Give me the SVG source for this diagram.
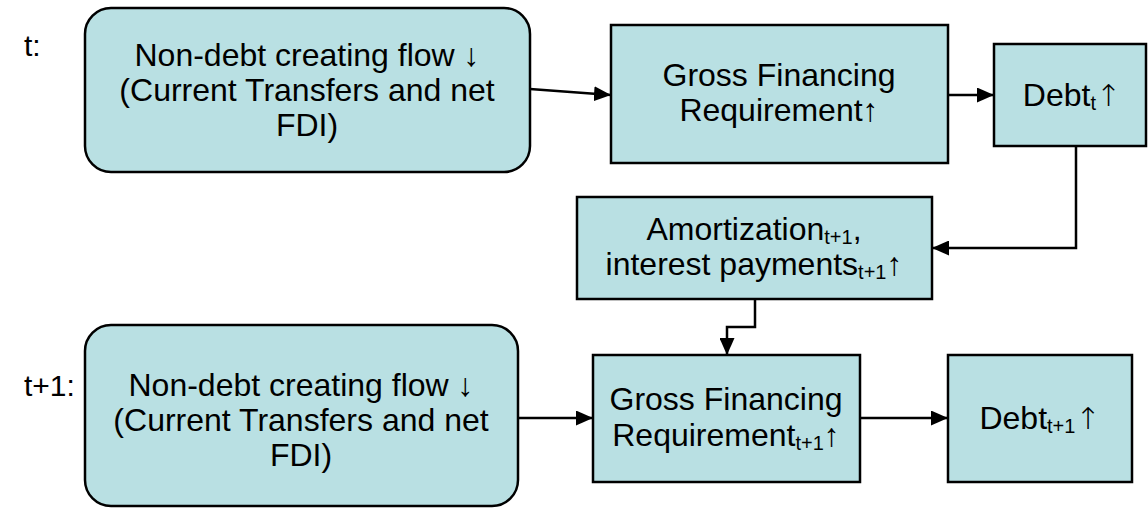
<svg xmlns="http://www.w3.org/2000/svg" width="1148" height="508" viewBox="0 0 1148 508">
<defs>
<marker id="arr" markerWidth="17" markerHeight="15" refX="17" refY="7.5" orient="auto" markerUnits="userSpaceOnUse" viewBox="0 0 17 15">
<path d="M0,0 L17,7.5 L0,15 Z" fill="#000"/>
</marker>
<style>
.box{fill:#b9e0e3;stroke:#000;stroke-width:2.5}
.t{font-family:"Liberation Sans",Arial,sans-serif;font-size:32px;fill:#000;text-anchor:middle}
.lbl{font-family:"Liberation Sans",Arial,sans-serif;font-size:30px;fill:#000}
.sub{font-size:20px}
.ar{font-family:"DejaVu Sans",sans-serif;font-size:30px;font-weight:200}
.c{fill:none;stroke:#000;stroke-width:2.5}
</style>
</defs>
<rect width="1148" height="508" fill="#fff"/>
<text class="lbl" x="24" y="56">t:</text>
<text class="lbl" x="24" y="396">t+1:</text>
<g id="ndcf_t">
<rect class="box" x="85" y="8" width="445" height="164" rx="26"/>
<text class="t" x="307" y="66">Non-debt creating flow ↓</text>
<text class="t" x="307" y="101">(Current Transfers and net</text>
<text class="t" x="307" y="136">FDI)</text>
</g>
<g id="gfr_t">
<rect class="box" x="611" y="25" width="337" height="138"/>
<text class="t" x="779" y="86">Gross Financing</text>
<text class="t" x="779" y="121">Requirement↑</text>
</g>
<g id="debt_t">
<rect class="box" x="994" y="44" width="152" height="102"/>
<text class="t" x="1072" y="106">Debt<tspan class="sub" dy="4">t</tspan><tspan class="ar" dy="-4">↑</tspan></text>
</g>
<g id="amort">
<rect class="box" x="577" y="197" width="355" height="102"/>
<text class="t" x="754" y="240">Amortization<tspan class="sub" dy="4">t+1</tspan><tspan dy="-4">,</tspan></text>
<text class="t" x="754" y="275">interest payments<tspan class="sub" dy="4">t+1</tspan><tspan dy="-4">↑</tspan></text>
</g>
<g id="ndcf_t1">
<rect class="box" x="85" y="325" width="433" height="181" rx="26"/>
<text class="t" x="301" y="396">Non-debt creating flow ↓</text>
<text class="t" x="301" y="431">(Current Transfers and net</text>
<text class="t" x="301" y="466">FDI)</text>
</g>
<g id="gfr_t1">
<rect class="box" x="593" y="355" width="267" height="127"/>
<text class="t" x="726" y="410">Gross Financing</text>
<text class="t" x="726" y="446">Requirement<tspan class="sub" dy="4">t+1</tspan><tspan dy="-4">↑</tspan></text>
</g>
<g id="debt_t1">
<rect class="box" x="948" y="355" width="184" height="127"/>
<text class="t" x="1040" y="429">Debt<tspan class="sub" dy="4">t+1</tspan><tspan class="ar" dy="-4">↑</tspan></text>
</g>
<g id="connectors">
<path class="c" d="M530,89 L611,95" marker-end="url(#arr)"/>
<path class="c" d="M948,95 L994,95" marker-end="url(#arr)"/>
<path class="c" d="M1076,146 L1076,248 L932,248" marker-end="url(#arr)"/>
<path class="c" d="M755,299 L755,327 L727,327 L727,355" marker-end="url(#arr)"/>
<path class="c" d="M518,418 L593,418" marker-end="url(#arr)"/>
<path class="c" d="M860,418 L948,418" marker-end="url(#arr)"/>
</g>
</svg>
